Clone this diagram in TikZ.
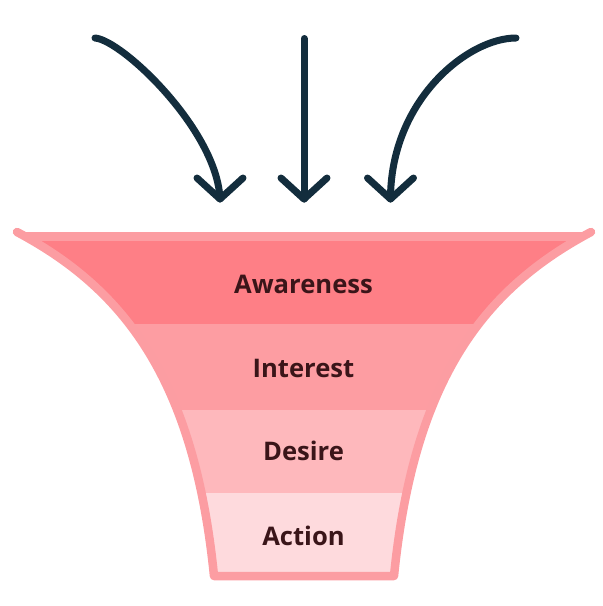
\documentclass[tikz,border=0pt]{standalone}
\usepackage{fontspec}
\newfontfamily\lblfont{Open Sans}
\definecolor{bordpink}{HTML}{FC9DA2}
\definecolor{awcol}{HTML}{FE7F86}
\definecolor{incol}{HTML}{FD9DA2}
\definecolor{decol}{HTML}{FEB8BC}
\definecolor{accol}{HTML}{FEDADD}
\definecolor{txtcol}{HTML}{3A1519}
\definecolor{arrcol}{HTML}{132D3D}
\tikzset{
  arrowline/.style={draw=arrcol, line width=7pt, line cap=round, line join=round},
  funnelline/.style={draw=bordpink, line width=8.5pt, line cap=round, line join=round},
  stagelabel/.style={anchor=base, text=txtcol, font=\lblfont\bfseries\fontsize{25.6}{30}\selectfont, inner sep=0pt}
}
\begin{document}
\begin{tikzpicture}[x=1pt,y=-1pt]
\useasboundingbox (0,0) rectangle (603,606);
% funnel geometry
\coordinate (lt) at (17,232);
\coordinate (lb) at (214,576);
\coordinate (rb) at (394,576);
\coordinate (rt) at (591,232);
\coordinate (tl) at (25.8,236.7);
\coordinate (tr) at (582.2,236.7);
% bands
\begin{scope}
  \clip (lt) .. controls (122,288) and (194,376) .. (lb) -- (rb)
        .. controls (414,376) and (486,288) .. (rt) -- (tr) -- (tl) -- cycle;
  \fill[awcol] (0,230) rectangle (603,324.3);
  \fill[incol] (0,324.3) rectangle (603,409.5);
  \fill[decol] (0,409.5) rectangle (603,492.8);
  \fill[accol] (0,492.8) rectangle (603,590);
\end{scope}
% funnel outline
\draw[funnelline] (lt) .. controls (122,288) and (194,376) .. (lb) -- (rb)
      .. controls (414,376) and (486,288) .. (rt);
\draw[funnelline, line cap=butt] (tl) -- (tr);
% labels
\node[stagelabel] (aw) at (303.5,293.3) {Awareness};
\node[stagelabel] (in) at (303.5,377.3) {Interest};
\node[stagelabel] (de) at (303.5,460.7) {Desire};
\node[stagelabel] (ac) at (303.5,545) {Action};
% arrows
\coordinate (a1s) at (95,38);
\coordinate (a1t) at (220,199);
\coordinate (a2s) at (304,38.5);
\coordinate (a2t) at (304,199);
\coordinate (a3s) at (516,38);
\coordinate (a3t) at (390.5,199);
\draw[arrowline] (a1s) .. controls (122,40) and (217,130) .. (a1t);
\draw[arrowline] ([shift={(-23,-21)}]a1t) -- (a1t) -- ([shift={(23,-21)}]a1t);
\draw[arrowline] (a2s) -- (a2t);
\draw[arrowline] ([shift={(-23,-21)}]a2t) -- (a2t) -- ([shift={(23,-21)}]a2t);
\draw[arrowline] (a3s) .. controls (468,38) and (390.5,100) .. (a3t);
\draw[arrowline] ([shift={(-23,-21)}]a3t) -- (a3t) -- ([shift={(23,-21)}]a3t);
\end{tikzpicture}
\end{document}
